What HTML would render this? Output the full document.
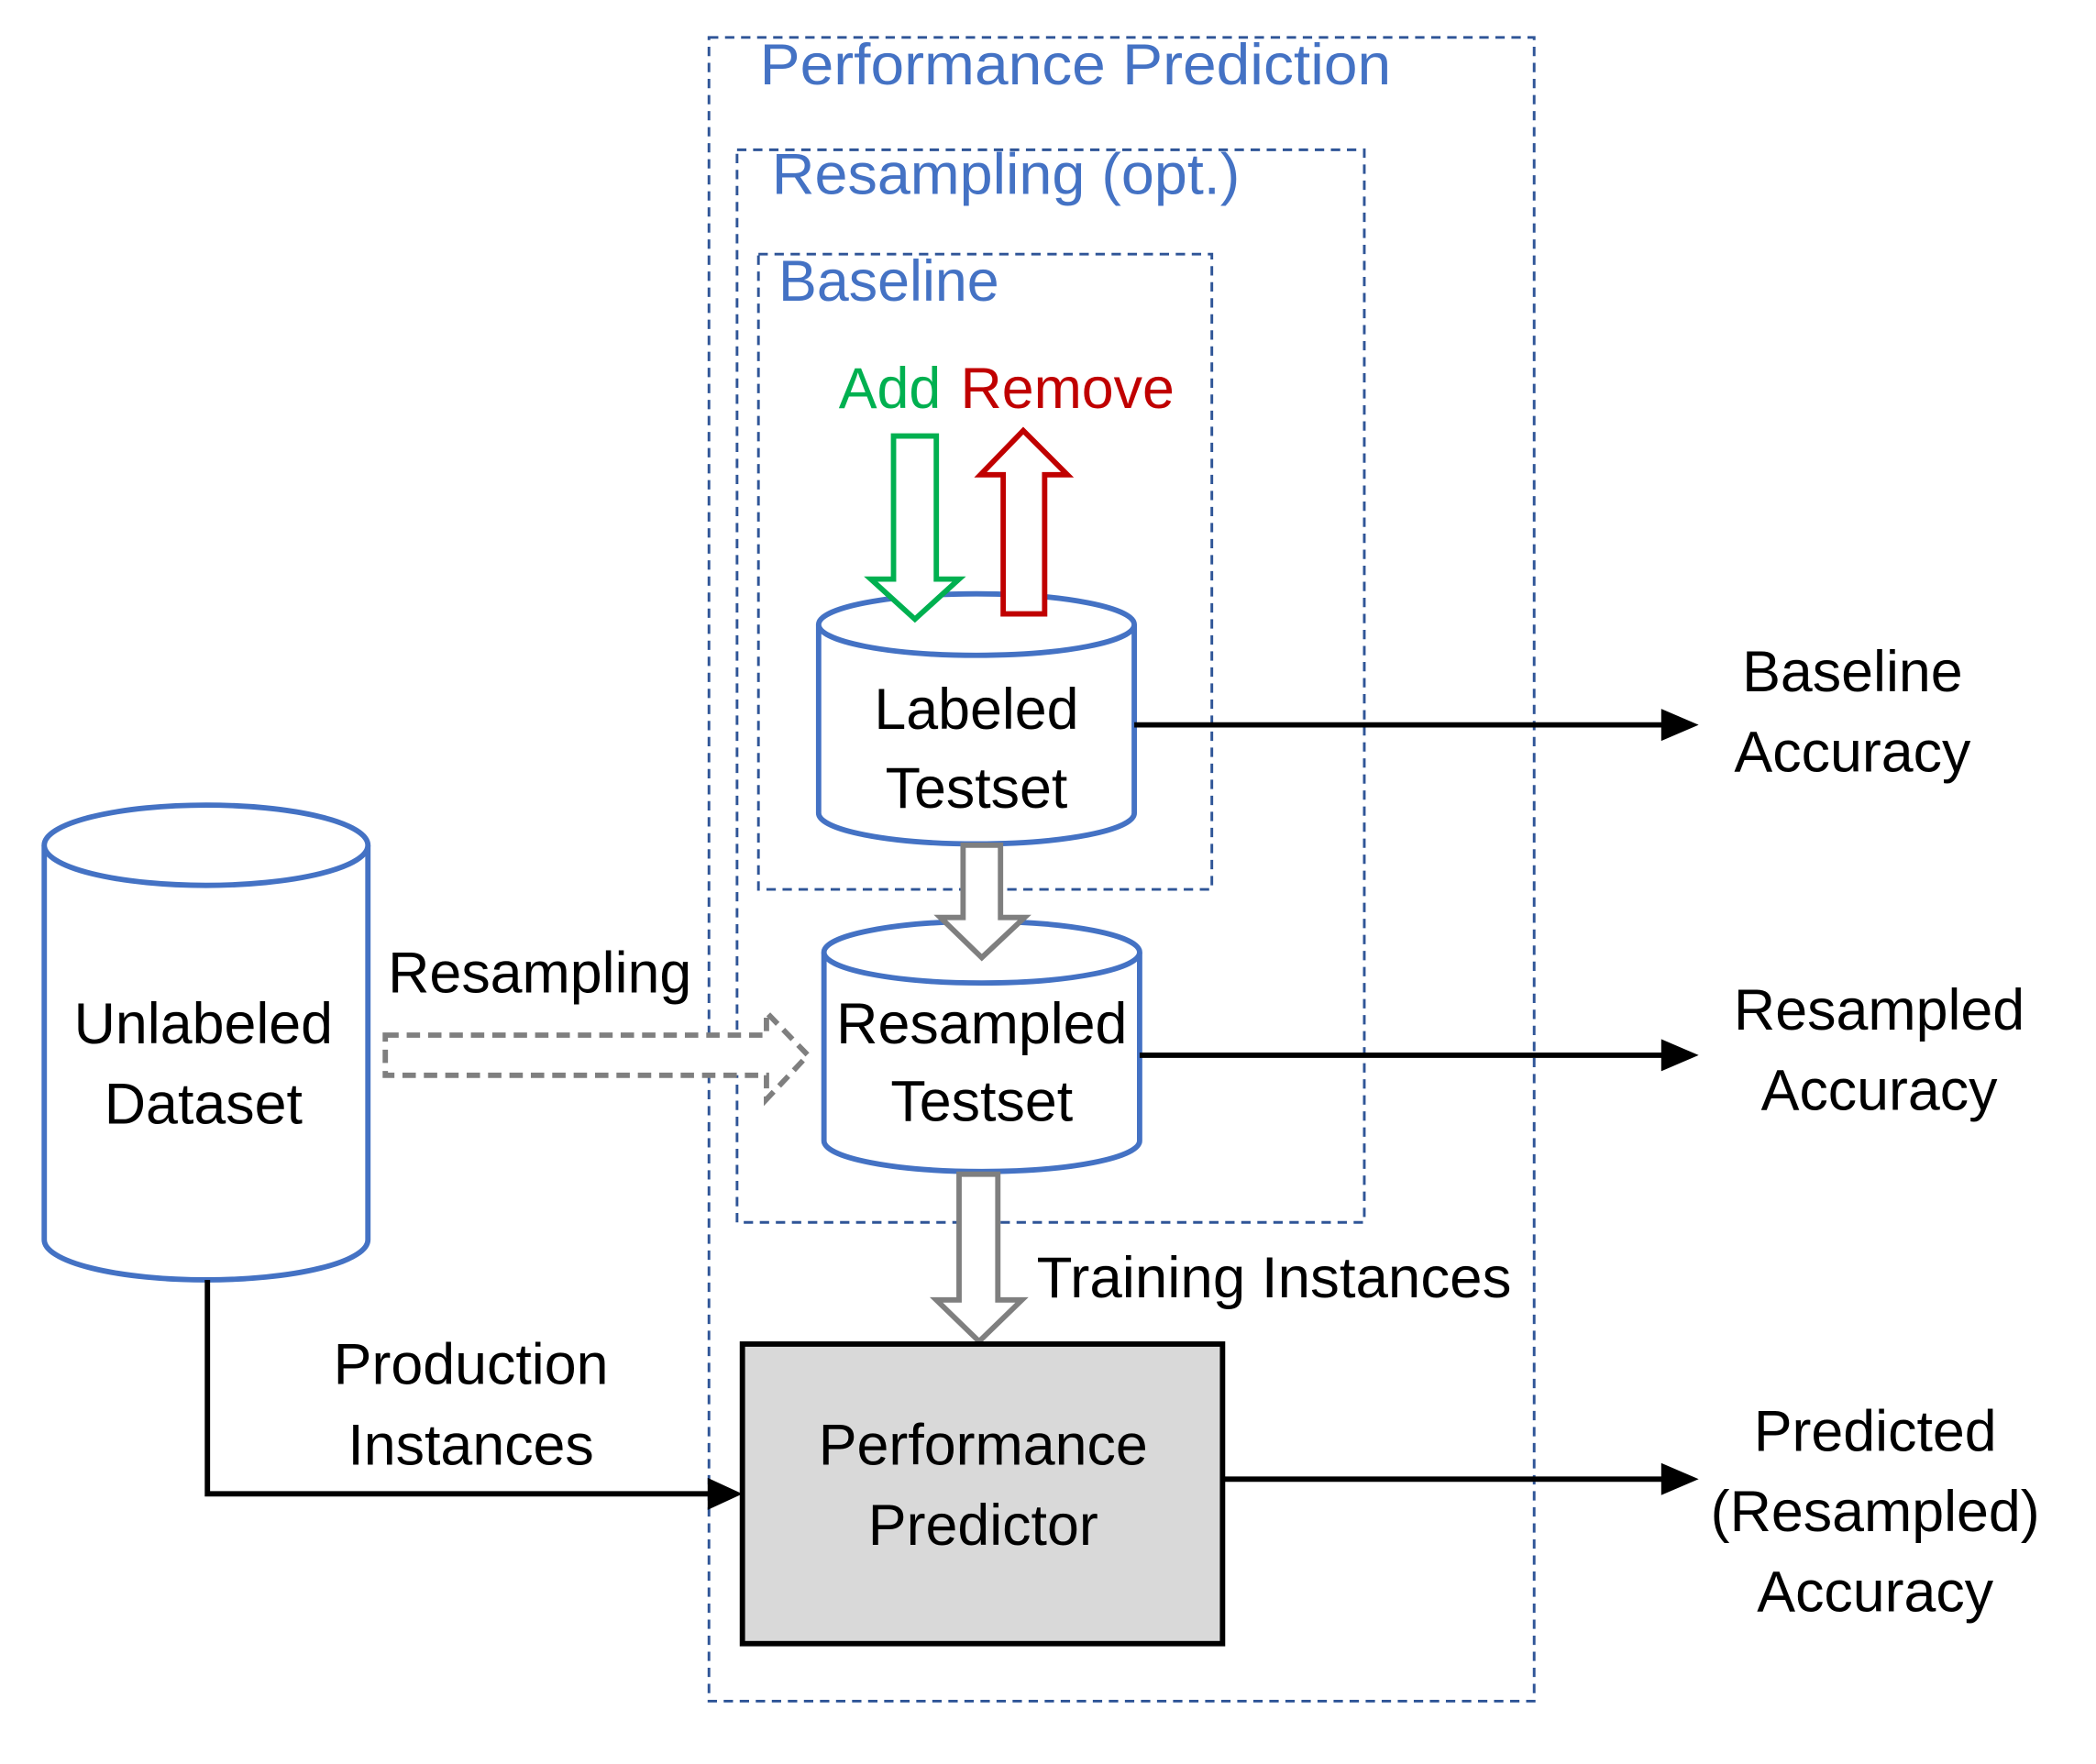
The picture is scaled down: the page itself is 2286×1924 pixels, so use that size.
<!DOCTYPE html>
<html><head><meta charset="utf-8"><style>html,body{margin:0;padding:0;background:#fff}svg{display:block}</style></head>
<body>
<svg width="2286" height="1924" viewBox="0 0 1567 1319" xmlns="http://www.w3.org/2000/svg" font-family="Liberation Sans, sans-serif" font-size="43">
<rect width="1567" height="1319" fill="#fff"/>
<g fill="none" stroke="#2F5597" stroke-width="2" stroke-dasharray="7,5">
<rect x="530" y="28" width="617" height="1244"/>
<rect x="551" y="112" width="469" height="802"/>
<rect x="567" y="190" width="339" height="475"/>
</g>
<g fill="#4472C4">
<text x="568" y="63" textLength="472" lengthAdjust="spacingAndGlyphs">Performance Prediction</text>
<text x="577" y="145" textLength="350" lengthAdjust="spacingAndGlyphs">Resampling (opt.)</text>
<text x="582" y="225">Baseline</text>
</g>
<text x="627" y="305" fill="#00B050">Add</text>
<text x="718" y="305" fill="#C00000" textLength="160" lengthAdjust="spacingAndGlyphs">Remove</text>
<g fill="#fff" stroke="#4472C4" stroke-width="4">
<path d="M612,467 L612,608 A118,23 0 0 0 848,608 L848,467"/>
<ellipse cx="730" cy="467" rx="118" ry="23"/>
</g>
<polygon points="668,326 700,326 700,433 717,433 684,463 651,433 668,433" fill="#fff" stroke="#00B050" stroke-width="4"/>
<polygon points="750,459 781,459 781,355 798,355 765,322 733,355 750,355" fill="#fff" stroke="#C00000" stroke-width="4"/>
<g text-anchor="middle">
<text x="730" y="545">Labeled</text>
<text x="730" y="604">Testset</text>
</g>
<g fill="#fff" stroke="#4472C4" stroke-width="4">
<path d="M616,712 L616,853 A118,23 0 0 0 852,853 L852,712"/>
<ellipse cx="734" cy="712" rx="118" ry="23"/>
</g>
<polygon points="720,632 748,632 748,686 766,686 734,716 703,686 720,686" fill="#fff" stroke="#7F7F7F" stroke-width="4"/>
<g text-anchor="middle">
<text x="734" y="780">Resampled</text>
<text x="734" y="838">Testset</text>
</g>
<polygon points="717,878 746,878 746,972 764,972 732,1003 700,972 717,972" fill="#fff" stroke="#7F7F7F" stroke-width="4"/>
<text x="775" y="970" textLength="355" lengthAdjust="spacingAndGlyphs">Training Instances</text>
<rect x="555" y="1005" width="359" height="224" fill="#D9D9D9" stroke="#000" stroke-width="4"/>
<g text-anchor="middle">
<text x="735" y="1095">Performance</text>
<text x="735" y="1155">Predictor</text>
</g>
<g fill="#fff" stroke="#4472C4" stroke-width="4">
<path d="M33,632 L33,927 A121,30 0 0 0 275,927 L275,632"/>
<ellipse cx="154" cy="632" rx="121" ry="30"/>
</g>
<g text-anchor="middle">
<text x="152" y="780">Unlabeled</text>
<text x="152" y="840">Dataset</text>
</g>
<polygon points="288,774 573,774 573,757 604,789 573,822 573,804 288,804" fill="#fff" stroke="#7F7F7F" stroke-width="4" stroke-dasharray="10,6"/>
<text x="290" y="742">Resampling</text>
<polyline points="155,957 155,1117 530,1117" fill="none" stroke="#000" stroke-width="4"/>
<polygon points="529,1105 555,1117 529,1129" fill="#000"/>
<g text-anchor="middle">
<text x="352" y="1035">Production</text>
<text x="352" y="1095">Instances</text>
</g>
<g stroke="#000" stroke-width="4">
<line x1="848" y1="542" x2="1245" y2="542"/>
<line x1="852" y1="789" x2="1245" y2="789"/>
<line x1="914" y1="1106" x2="1245" y2="1106"/>
</g>
<g fill="#000">
<polygon points="1242,530 1270,542 1242,554"/>
<polygon points="1242,777 1270,789 1242,801"/>
<polygon points="1242,1094 1270,1106 1242,1118"/>
</g>
<g text-anchor="middle">
<text x="1385" y="517">Baseline</text>
<text x="1385" y="577">Accuracy</text>
<text x="1405" y="770">Resampled</text>
<text x="1405" y="830">Accuracy</text>
<text x="1402" y="1085">Predicted</text>
<text x="1402" y="1145">(Resampled)</text>
<text x="1402" y="1205">Accuracy</text>
</g>
</svg>
</body></html>
